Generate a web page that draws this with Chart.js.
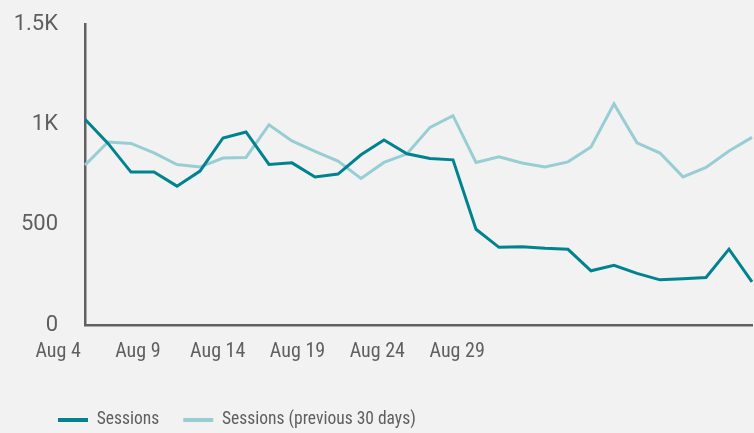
<!DOCTYPE html>
<html>
<head>
<meta charset="utf-8">
<script src="https://cdn.jsdelivr.net/npm/chart.js@4/dist/chart.umd.min.js"></script>
<style>
  html, body { margin: 0; padding: 0; background: #f2f2f2; }
  #wrap { width: 754px; height: 433px; }
</style>
</head>
<body>
<div id="wrap"><canvas id="myChart"></canvas></div>
<script>
const days = ["Aug 4", "Aug 5", "Aug 6", "Aug 7", "Aug 8", "Aug 9", "Aug 10", "Aug 11", "Aug 12", "Aug 13",
  "Aug 14", "Aug 15", "Aug 16", "Aug 17", "Aug 18", "Aug 19", "Aug 20", "Aug 21", "Aug 22", "Aug 23",
  "Aug 24", "Aug 25", "Aug 26", "Aug 27", "Aug 28", "Aug 29", "Aug 30", "Aug 31", "Sep 1", "Sep 2"];
const sessions = [1025, 905, 762, 762, 692, 767, 932, 962, 800, 808,
  738, 752, 848, 922, 853, 830, 823, 477, 387, 390,
  382, 377, 270, 297, 257, 225, 230, 237, 378, 215];
const sessionsPrev = [797, 912, 905, 858, 800, 787, 832, 835, 998, 917,
  865, 817, 730, 810, 853, 985, 1043, 810, 838, 807,
  787, 813, 887, 1102, 908, 857, 738, 785, 867, 935];
const tickLabels = ["Aug 4", "Aug 9", "Aug 14", "Aug 19", "Aug 24", "Aug 29"];
const yTicks = [0, 500, 1000, 1500];

const textColor = "#5f5f5f";
const axisColor = "#616161";
const narrow = '"Roboto Condensed", "Liberation Sans Narrow", Roboto, sans-serif';

// the x labels sit on their own spacing, not on the data points
const tickStart = -1.17;
const tickGap = 3.47;
const legendInset = 34;

const data = {
  labels: days,
  datasets: [
    {
      label: "Sessions",
      data: sessions,
      borderColor: "#00838f",
      borderWidth: 3,
      pointRadius: 0,
      tension: 0,
      fill: false,
    },
    {
      label: "Sessions (previous 30 days)",
      data: sessionsPrev,
      borderColor: "#98ced3",
      borderWidth: 3,
      pointRadius: 0,
      tension: 0,
      fill: false,
    },
  ],
};

const options = {
  responsive: true,
  maintainAspectRatio: false,
  animation: false,
  layout: {
    padding: { top: 24, left: 0, right: 2, bottom: 0 }
  },
  plugins: {
    tooltip: { enabled: false },
    legend: {
      position: "bottom",
      align: "start",
      maxHeight: 45.75,
      labels: {
        color: textColor,
        boxWidth: 30,
        boxHeight: 4,
        padding: 24,
        font: { family: narrow, size: 17.5 },
        generateLabels: (chart) =>
          Chart.defaults.plugins.legend.labels.generateLabels(chart).map(l => ({
            ...l, lineWidth: 0, fillStyle: l.strokeStyle
          })),
      },
    },
  },
  scales: {
    x: {
      type: "category",
      grid: { display: false, drawTicks: false },
      border: { display: true, color: axisColor, width: 2.5 },
      afterBuildTicks: (scale) => {
        scale.ticks = tickLabels.map((t, i) => ({ value: tickStart + i * tickGap }));
      },
      afterFit: (scale) => { scale.height = 62.25; },
      ticks: {
        autoSkip: false,
        maxRotation: 0,
        padding: 15,
        color: textColor,
        font: { family: narrow, size: 20 },
        callback: (value, index) => tickLabels[index],
      },
    },
    y: {
      min: 0,
      max: 1500,
      grid: { display: false, drawTicks: false },
      border: { display: true, color: axisColor, width: 2.5 },
      afterBuildTicks: (scale) => {
        scale.ticks = yTicks.map(v => ({ value: v }));
      },
      afterFit: (scale) => {
        scale.width = 85;
        scale.paddingTop = 0;
      },
      ticks: {
        padding: 27,
        color: textColor,
        font: { family: "Roboto", size: 22 },
        callback: (value) => value >= 1000 ? (value / 1000) + "K" : value,
      },
    },
  },
};

const legendShift = {
  id: "legendShift",
  afterLayout(chart) {
    chart.legend.left += legendInset;
  },
};

const chart = new Chart("myChart", {
  type: "line",
  data: data,
  options: options,
  plugins: [legendShift],
});
</script>
</body>
</html>
